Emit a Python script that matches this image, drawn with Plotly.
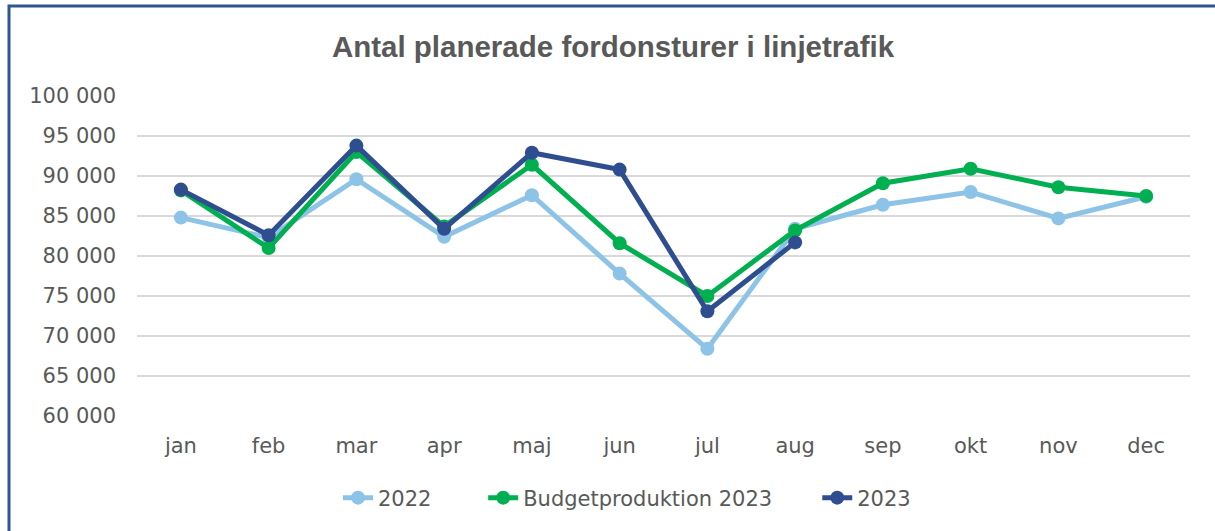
import plotly.graph_objects as go

months = ["jan", "feb", "mar", "apr", "maj", "jun", "jul", "aug", "sep", "okt", "nov", "dec"]
turer_2022 = [84800, 82300, 89600, 82400, 87600, 77800, 68400, 83400, 86400, 88000, 84700, 87400]
budget_2023 = [88200, 81000, 93000, 83700, 91400, 81600, 75000, 83200, 89100, 90900, 88600, 87500]
turer_2023 = [88300, 82600, 93800, 83400, 92900, 90800, 73100, 81700, None, None, None, None]

# trailing non-breaking spaces widen the gap between legend entries
series = [
    ("2022", turer_2022, "#8DC3E7", 7),
    ("Budgetproduktion 2023", budget_2023, "#00B050", 6),
    ("2023", turer_2023, "#2E4E8F", 0),
]

text_color = "#595959"
label_font = "DejaVu Sans, Verdana, sans-serif"
title_font = "Liberation Sans, Arial, sans-serif"

fig = go.Figure()
for name, values, color, pad in series:
    fig.add_trace(go.Scatter(
        x=months,
        y=values,
        name=name + "\u00a0" * pad,
        mode="lines+markers",
        line=dict(color=color, width=5),
        marker=dict(color=color, size=14),
        connectgaps=False,
    ))

# Frame around the chart area
fig.add_shape(
    type="rect", xref="paper", yref="paper",
    x0=(9 - 137) / 1053, x1=(1230 - 137) / 1053,
    y0=(416 - 545) / 320, y1=(416 - 6) / 320,
    line=dict(color="#2F5597", width=3),
    fillcolor="rgba(0,0,0,0)",
    layer="below",
)

fig.update_layout(
    width=1215,
    height=531,
    margin=dict(l=137, r=25, t=96, b=115),
    paper_bgcolor="white",
    plot_bgcolor="white",
    separators=", ",
    font=dict(family=label_font, color=text_color),
    title=dict(
        text="<b>Antal planerade fordonsturer i linjetrafik</b>",
        x=613 / 1215, xanchor="center",
        y=1 - 47 / 531, yanchor="middle",
        font=dict(size=29.5, color=text_color, family=title_font),
    ),
    xaxis=dict(
        type="category",
        range=[-0.5, 11.5],
        showgrid=False,
        showline=False,
        zeroline=False,
        ticks="",
        ticklabelstandoff=15,
        tickfont=dict(size=21, color=text_color),
    ),
    yaxis=dict(
        range=[60000, 100000],
        dtick=5000,
        tickformat=",d",
        showgrid=True,
        gridcolor="#D9D9D9",
        gridwidth=2,
        zeroline=False,
        showline=False,
        ticks="",
        ticklabelstandoff=20,
        tickfont=dict(size=21, color=text_color),
    ),
    legend=dict(
        orientation="h",
        x=(338 - 137) / 1053, xanchor="left",
        y=(416 - 498) / 320, yanchor="middle",
        font=dict(size=21, color=text_color),
        itemwidth=30,
    ),
)

fig.write_html("out.html")
